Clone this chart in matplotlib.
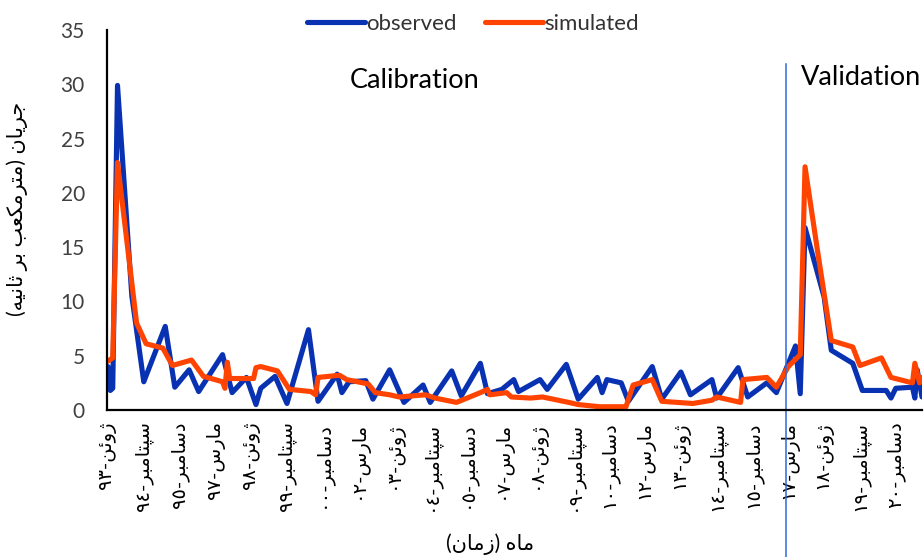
import matplotlib
matplotlib.use("Agg")
import matplotlib.pyplot as plt
import numpy as np

plt.rcParams["font.family"] = ["Lato", "DejaVu Sans"]

# {{{ data (x = months since Jun 1993)
obs_month = [0, 1, 2, 4, 10, 15, 24, 28, 34, 38, 48, 52, 58, 62, 64, 70, 75,
             84, 88, 96, 98, 101, 108, 111, 118, 124, 132, 135, 144, 148,
             156, 159, 165, 170, 172, 181, 184, 192, 197, 205, 207, 209,
             215, 218, 228, 232, 240, 244, 253, 255, 264, 268, 276, 280,
             288, 290, 292, 300, 303, 312, 316, 326, 328, 330, 337, 338,
             339, 341]
obs_flow = [4.0, 1.8, 2.0, 29.9, 10.5, 2.6, 7.7, 2.1, 3.7, 1.7, 5.1, 1.6,
            3.0, 0.5, 2.0, 3.1, 0.6, 7.4, 0.8, 3.3, 1.6, 2.6, 2.7, 1.0, 3.7,
            0.7, 2.3, 0.7, 3.6, 1.3, 4.3, 1.5, 1.9, 2.8, 1.7, 2.8, 1.9, 4.2,
            1.0, 3.0, 1.6, 2.8, 2.5, 0.8, 4.0, 1.0, 3.5, 1.4, 2.8, 1.1, 3.9,
            1.2, 2.5, 1.6, 5.9, 1.5, 16.8, 10.4, 5.5, 4.3, 1.8, 1.8, 1.1,
            2.0, 2.1, 1.1, 3.7, 1.2]

sim_month = [0, 2, 4, 12, 16, 23, 27, 35, 40, 48, 49, 50, 51, 61, 62, 64,
             71, 76, 85, 87, 88, 97, 100, 109, 112, 118, 122, 133, 137, 146,
             156, 159, 160, 167, 169, 177, 182, 193, 197, 206, 217, 220,
             228, 232, 245, 253, 255, 265, 266, 276, 280, 285, 290, 292,
             297, 303, 306, 312, 315, 324, 328, 337, 338, 340, 341]
sim_flow = [4.5, 4.8, 22.8, 8.0, 6.1, 5.7, 4.1, 4.6, 3.1, 2.6, 2.0, 4.4,
            2.9, 2.9, 3.9, 4.0, 3.6, 1.9, 1.7, 1.4, 3.0, 3.2, 2.8, 2.4, 1.6,
            1.4, 1.2, 1.4, 1.1, 0.7, 1.6, 1.9, 1.4, 1.6, 1.2, 1.1, 1.2, 0.7,
            0.5, 0.3, 0.3, 2.3, 2.8, 0.8, 0.6, 0.9, 1.2, 0.7, 2.8, 3.0, 2.1,
            4.0, 5.1, 22.4, 15.0, 6.4, 6.2, 5.8, 4.1, 4.8, 3.0, 2.5, 4.3,
            2.5, 3.0]

tick_month = list(range(0, 331, 15))
tick_labels = ["ژوئن-٩٣", "سپتامبر-٩٤", "دسامبر-٩٥", "مارس-٩٧",
               "ژوئن-٩٨", "سپتامبر-٩٩", "دسامبر-٠٠", "مارس-٠٢",
               "ژوئن-٠٣", "سپتامبر-٠٤", "دسامبر-٠٥", "مارس-٠٧",
               "ژوئن-٠٨", "سپتامبر-٠٩", "دسامبر-١٠", "مارس-١٢",
               "ژوئن-١٣", "سپتامبر-١٤", "دسامبر-١٥", "مارس-١٧",
               "ژوئن-١٨", "سپتامبر-١٩", "دسامبر-٢٠"]
split_month = 284.2
y_label = "جریان (مترمکعب بر ثانیه)"
x_label = "ماه (زمان)"
# }}}

# {{{ tiny Persian shaper: matplotlib does no joining / bidi itself
FORMS = {  # isolated, final, initial, medial
    "ا": ("\uFE8D", "\uFE8E", None, None),
    "ب": ("\uFE8F", "\uFE90", "\uFE91", "\uFE92"),
    "پ": ("\uFB56", "\uFB57", "\uFB58", "\uFB59"),
    "ت": ("\uFE95", "\uFE96", "\uFE97", "\uFE98"),
    "ث": ("\uFE99", "\uFE9A", "\uFE9B", "\uFE9C"),
    "ج": ("\uFE9D", "\uFE9E", "\uFE9F", "\uFEA0"),
    "د": ("\uFEA9", "\uFEAA", None, None),
    "ر": ("\uFEAD", "\uFEAE", None, None),
    "ز": ("\uFEAF", "\uFEB0", None, None),
    "ژ": ("\uFB8A", "\uFB8B", None, None),
    "س": ("\uFEB1", "\uFEB2", "\uFEB3", "\uFEB4"),
    "ع": ("\uFEC9", "\uFECA", "\uFECB", "\uFECC"),
    "ک": ("\uFB8E", "\uFB8F", "\uFB90", "\uFB91"),
    "م": ("\uFEE1", "\uFEE2", "\uFEE3", "\uFEE4"),
    "ن": ("\uFEE5", "\uFEE6", "\uFEE7", "\uFEE8"),
    "ه": ("\uFEE9", "\uFEEA", "\uFEEB", "\uFEEC"),
    "و": ("\uFEED", "\uFEEE", None, None),
    "ی": ("\uFBFC", "\uFBFD", "\uFBFE", "\uFBFF"),
    "ئ": ("\uFE89", "\uFE8A", "\uFE8B", "\uFE8C"),
}
MIRROR = {"(": ")", ")": "("}


def shape(s):
    out = []
    for i, c in enumerate(s):
        if c not in FORMS:
            out.append(c)
            continue
        prev = s[i - 1] if i > 0 else ""
        nxt = s[i + 1] if i + 1 < len(s) else ""
        j_prev = prev in FORMS and FORMS[prev][2] is not None
        j_next = FORMS[c][2] is not None and nxt in FORMS
        iso, fin, ini, med = FORMS[c]
        if j_prev and j_next:
            out.append(med)
        elif j_prev:
            out.append(fin)
        elif j_next:
            out.append(ini)
        else:
            out.append(iso)
    return "".join(out)


def rtl(s):
    s = shape(s)
    runs, cur, cur_digit = [], "", None
    for c in s:
        d = c.isdigit()
        if cur and d != cur_digit:
            runs.append((cur, cur_digit))
            cur = ""
        cur += c
        cur_digit = d
    if cur:
        runs.append((cur, cur_digit))
    vis = []
    for text, is_digit in reversed(runs):
        vis.append(text if is_digit else
                   "".join(MIRROR.get(c, c) for c in reversed(text)))
    return "".join(vis)
# }}}

fig = plt.figure(figsize=(9.24, 5.57), dpi=100)
ax = fig.add_axes([107 / 924, 1 - 410 / 557, 815 / 924, 380 / 557])

ax.plot(obs_month, obs_flow, color="#0832B2", lw=3.7, label="observed",
        solid_joinstyle="round", solid_capstyle="round")
ax.plot(sim_month, sim_flow, color="#FF4300", lw=3.7, label="simulated",
        solid_joinstyle="round", solid_capstyle="round")

# calibration / validation divider, runs down through the tick labels
ax.plot([split_month, split_month], [-0.39, 0.91], color="#2F68E0", lw=1.1,
        transform=ax.get_xaxis_transform(), clip_on=False)

ax.set_xlim(-0.4, 341)
ax.set_ylim(0, 35)
ax.set_yticks(np.arange(0, 36, 5))
ax.set_xticks(tick_month)
ax.set_xticklabels([rtl(t) for t in tick_labels], rotation=90, fontsize=14,
                   va="top", ha="center")
ax.tick_params(axis="x", length=0, pad=8)
ax.tick_params(axis="y", length=0, pad=16, labelsize=15, labelcolor="#404040")

for side in ["top", "right"]:
    ax.spines[side].set_visible(False)
for side in ["left", "bottom"]:
    ax.spines[side].set_linewidth(1.6)
    ax.spines[side].set_color("black")

ax.set_ylabel(rtl(y_label), fontsize=15)
ax.yaxis.set_label_coords(-0.097, 0.53)
ax.set_xlabel(rtl(x_label), fontsize=15)
ax.xaxis.set_label_coords(0.47, -0.325)

ax.text(0.378, 0.868, "Calibration", transform=ax.transAxes, fontsize=19.5,
        ha="center", va="center")
ax.text(0.925, 0.874, "Validation", transform=ax.transAxes, fontsize=19.5,
        ha="center", va="center")

fig.legend(loc="center", bbox_to_anchor=(473 / 924, 1 - 24 / 557), ncol=2,
           frameon=False, fontsize=16, handlelength=2.6, handletextpad=0.05,
           columnspacing=1.3, labelcolor="#333333")

fig.savefig("out.png", dpi=100)
